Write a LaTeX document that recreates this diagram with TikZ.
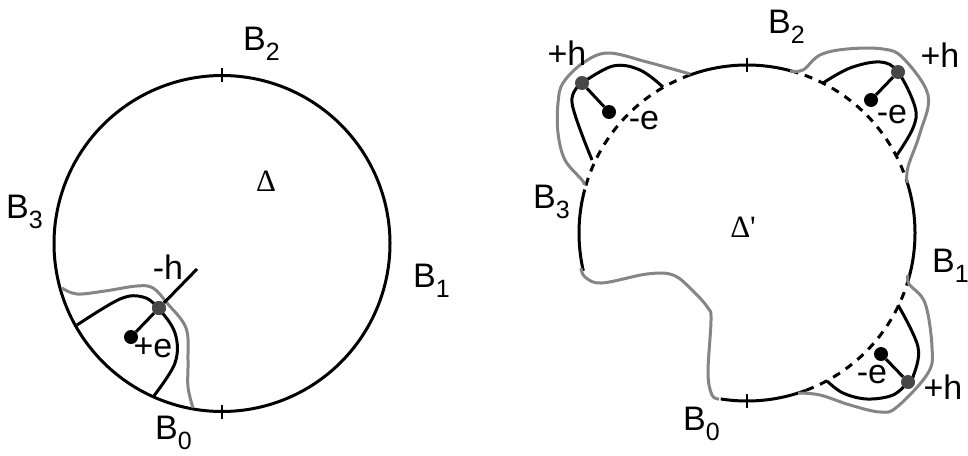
\documentclass[tikz,border=0pt]{standalone}
\usepackage{fontspec}
\setmainfont{Liberation Sans}
\newfontfamily\deltafont{Liberation Serif}
\newcommand{\Bs}[1]{B\raisebox{-10pt}{\fontsize{25}{25}\selectfont #1}}
\newcommand{\inkcurve}[2][]{\draw[#1] plot[smooth,tension=0.6] coordinates {#2};}
\tikzset{
  ink/.style={line width=3pt,black},
  ghost/.style={line width=3pt,color=black!48},
  dashedink/.style={line width=3pt,black,dash pattern=on 8pt off 7pt},
  lab/.style={font=\fontsize{34}{34}\selectfont,inner sep=0pt,text=black},
  blab/.style={lab,anchor=base west},
  dlab/.style={font=\fontsize{31}{31}\selectfont\deltafont,inner sep=0pt,text=black},
  charge/.style={circle,fill=black,inner sep=0pt,minimum size=14pt},
  hole/.style={circle,fill=black!72,inner sep=0pt,minimum size=14pt},
  tickmark/.style={line width=2.2pt,black}
}
\begin{document}
\begin{tikzpicture}[x=1pt,y=-1pt]
\useasboundingbox (0,0) rectangle (968,455);
% ---------- left disc
\draw[ink] plot[domain=0:360,samples=180,smooth] ({222+168*cos(\x)},{243.5-168*sin(\x)});
\coordinate (ltT1) at (222,68); \coordinate (ltT2) at (222,82);
\coordinate (ltB1) at (222,405); \coordinate (ltB2) at (222,419);
\draw[tickmark] (ltT1) -- (ltT2);
\draw[tickmark] (ltB1) -- (ltB2);
\inkcurve[ghost]{(62,288)(77,294)(105,291)(137,286)(153,288)(167,303)(186,328)(188,360)(188,387)(193,408)}
\inkcurve[ink]{(77,325)(120,299)(143,297)(158,308)(175,333)(175,363)(153,397)}
\node[charge] (ld) at (131,337) {};
\node[hole] (lh) at (159,308) {};
\coordinate (lend) at (197,269);
\draw[ink] (ld) -- (lh) -- (lend);
\node[hole] at (159,308) {};
\node[blab] at (243,50) {\Bs{2}};
\node[blab] at (6,218) {\Bs{3}};
\node[blab] at (413,287) {\Bs{1}};
\node[blab] at (155,439) {\Bs{0}};
\node[dlab] at (266,181) {Δ};
\node[lab] at (168,267) {-h};
\node[lab] at (153,348) {+e};
% ---------- right figure: boundary arcs
\draw[ink] plot[domain=75:109.7,samples=30] ({747+168*cos(\x)},{233-168*sin(\x)});
\draw[ink] plot[domain=-15.5:17,samples=30] ({747+168*cos(\x)},{233-168*sin(\x)});
\draw[ink] plot[domain=165:193,samples=30] ({747+168*cos(\x)},{233-168*sin(\x)});
\draw[ink] plot[domain=-69.5:-99,samples=30] ({747+168*cos(\x)},{233-168*sin(\x)});
\draw[dashedink] plot[domain=109.7:165,samples=40] ({747+168*cos(\x)},{233-168*sin(\x)});
\draw[dashedink] plot[domain=75:17,samples=40] ({747+168*cos(\x)},{233-168*sin(\x)});
\draw[dashedink] plot[domain=-15.5:-69.5,samples=40] ({747+168*cos(\x)},{233-168*sin(\x)});
\coordinate (rtT1) at (747,58); \coordinate (rtT2) at (747,72);
\coordinate (rtB1) at (747,394); \coordinate (rtB2) at (747,408);
\draw[tickmark] (rtT1) -- (rtT2);
\draw[tickmark] (rtB1) -- (rtB2);
% grey outlines
\inkcurve[ghost]{(719,399)(712,395)(708,373)(711,320)(708,308)(692,290)(673,275)(647,274)(602,283)(585,277)(581,268)}
\inkcurve[ghost]{(584,185)(582,180)(565,160)(558,133)(558,103)(563,83)(583,63)(608,53)(647,62)(690,74)}
\inkcurve[ghost]{(790,71)(803,70)(820,55)(847,49)(883,49)(903,58)(928,95)(920,133)(908,167)(907,183)}
\inkcurve[ghost]{(908,275)(909,284)(925,303)(932,347)(928,373)(897,407)(880,412)(850,405)(820,395)(798,393)}
% inner curves
\inkcurve[ink]{(663,87)(640,70)(613,66)(582,83)}
\inkcurve[ink]{(582,83)(572,103)(592,160)}
\inkcurve[ink]{(823,83)(850,68)(880,62)(898,72)(915,107)(913,128)(897,155)}
\inkcurve[ink]{(898,305)(918,347)(913,377)(908,382)}
\inkcurve[ink]{(908,382)(893,395)(867,399)(843,393)(827,381)}
% charges
\node[charge] (ad) at (609,112) {};
\node[hole] (ah) at (582,83) {};
\node[charge] (bd) at (871,100) {};
\node[hole] (bh) at (898,72) {};
\node[charge] (cd) at (881,354) {};
\node[hole] (ch) at (908,382) {};
\draw[ink] (ad) -- (ah);
\draw[ink] (bd) -- (bh);
\draw[ink] (cd) -- (ch);
% labels
\node[blab] at (768,33) {\Bs{2}};
\node[blab] at (533,208) {\Bs{3}};
\node[blab] at (932,272) {\Bs{1}};
\node[blab] at (683,430) {\Bs{0}};
\node[dlab] at (743,227) {Δ'};
\node[lab] at (567,53) {+h};
\node[lab] at (644,121) {-e};
\node[lab] at (940,55) {+h};
\node[lab] at (892,115) {-e};
\node[lab] at (943,387) {+h};
\node[lab] at (872,375) {-e};
\end{tikzpicture}
\end{document}
